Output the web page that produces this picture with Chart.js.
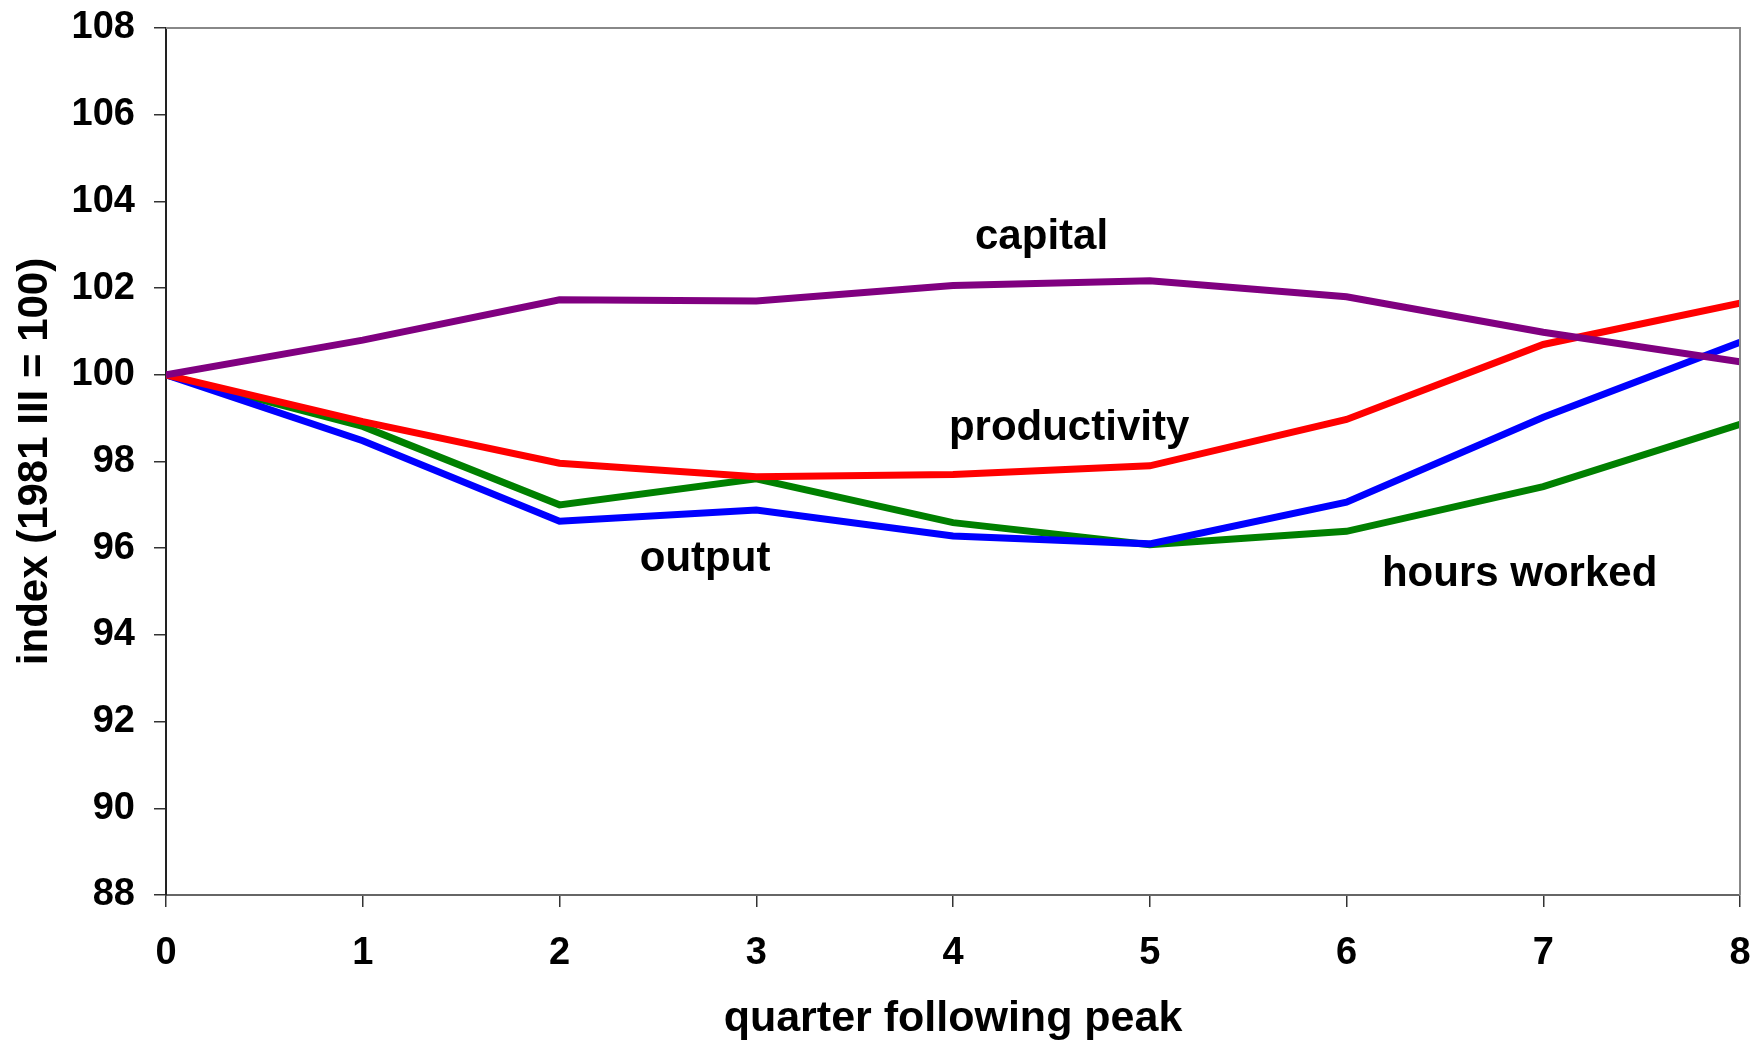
<!DOCTYPE html>
<html>
<head>
<meta charset="utf-8">
<script src="https://cdn.jsdelivr.net/npm/chart.js@4.4.1/dist/chart.umd.min.js"></script>
<style>
  html, body { margin: 0; padding: 0; background: #fff; }
  #wrap { width: 1755px; height: 1040px; }
</style>
</head>
<body>
<div id="wrap"><canvas id="chart" width="1755" height="1040"></canvas></div>
<script>
const quarters = [0, 1, 2, 3, 4, 5, 6, 7, 8];
const capital = [100, 100.8, 101.73, 101.7, 102.06, 102.17, 101.8, 100.98, 100.3];
const productivity = [100, 98.92, 97.96, 97.65, 97.7, 97.9, 98.97, 100.7, 101.65];
const output = [100, 98.48, 96.62, 96.88, 96.28, 96.1, 97.06, 99.02, 100.75];
const hoursWorked = [100, 98.81, 97.0, 97.6, 96.59, 96.08, 96.39, 97.42, 98.86];

// series names drawn inside the plot, at data coordinates
const labelNames = ["capital", "productivity", "output", "hours worked"];
const labelX = [4.45, 4.59, 2.74, 6.88];
const labelY = [103.17, 98.76, 95.74, 95.4];

const FONT = "'Liberation Sans', Arial, Helvetica, sans-serif";

const toPoints = vals => quarters.map((q, i) => ({ x: q, y: vals[i] }));

const line = (label, vals, color) => ({
  label: label,
  data: toPoints(vals),
  borderColor: color,
  backgroundColor: color,
  borderWidth: 7,
  pointRadius: 0,
  tension: 0,
  fill: false,
});

// drop the automatic room chart.js keeps for overhanging tick labels
const noOverhang = s => {
  s.paddingTop = 0; s.paddingBottom = 0; s.paddingLeft = 0; s.paddingRight = 0;
};

const seriesLabels = {
  id: "seriesLabels",
  afterDatasetsDraw(chart) {
    const { ctx, scales } = chart;
    ctx.save();
    ctx.font = "bold 42px " + FONT;
    ctx.fillStyle = "#000";
    ctx.textAlign = "center";
    ctx.textBaseline = "middle";
    labelNames.forEach((name, i) => {
      ctx.fillText(name, scales.x.getPixelForValue(labelX[i]), scales.y.getPixelForValue(labelY[i]));
    });
    // frame: grey top and right edges
    const a = chart.chartArea;
    ctx.strokeStyle = "#888";
    ctx.lineWidth = 2;
    ctx.beginPath();
    ctx.moveTo(a.left, a.top);
    ctx.lineTo(a.right, a.top);
    ctx.lineTo(a.right, a.bottom);
    ctx.stroke();
    ctx.restore();
  }
};

new Chart(document.getElementById("chart"), {
  type: "line",
  data: {
    datasets: [
      line("capital", capital, "#800080"),
      line("productivity", productivity, "#FF0000"),
      line("output", output, "#0000FF"),
      line("hours worked", hoursWorked, "#008000"),
    ],
  },
  options: {
    responsive: false,
    animation: false,
    layout: { padding: { top: 28, right: 15, left: 0, bottom: 0 } },
    plugins: {
      legend: { display: false },
      tooltip: { enabled: false },
    },
    scales: {
      x: {
        type: "linear",
        min: 0,
        max: 8,
        afterFit: s => { s.height = 145; noOverhang(s); },
        ticks: {
          stepSize: 1,
          color: "#000",
          padding: 24,
          font: { family: FONT, size: 38, weight: "bold" },
        },
        grid: { drawOnChartArea: false, drawTicks: true, tickLength: 12, color: "#333", lineWidth: 1.5 },
        border: { display: true, color: "#666", width: 2 },
        title: {
          display: true,
          text: "quarter following peak",
          color: "#000",
          padding: { top: 0, bottom: -5 },
          font: { family: FONT, size: 43, weight: "bold" },
        },
      },
      y: {
        min: 88,
        max: 108,
        afterFit: s => { s.width = 166; noOverhang(s); },
        ticks: {
          stepSize: 2,
          color: "#000",
          padding: 19,
          font: { family: FONT, size: 38, weight: "bold" },
        },
        grid: { drawOnChartArea: false, drawTicks: true, tickLength: 12, color: "#333", lineWidth: 1.5 },
        border: { display: true, color: "#222", width: 2 },
        title: {
          display: true,
          text: "index (1981 III = 100)",
          color: "#000",
          padding: { top: 10, bottom: 0 },
          font: { family: FONT, size: 42, weight: "bold" },
        },
      },
    },
  },
  plugins: [seriesLabels],
});
</script>
</body>
</html>
